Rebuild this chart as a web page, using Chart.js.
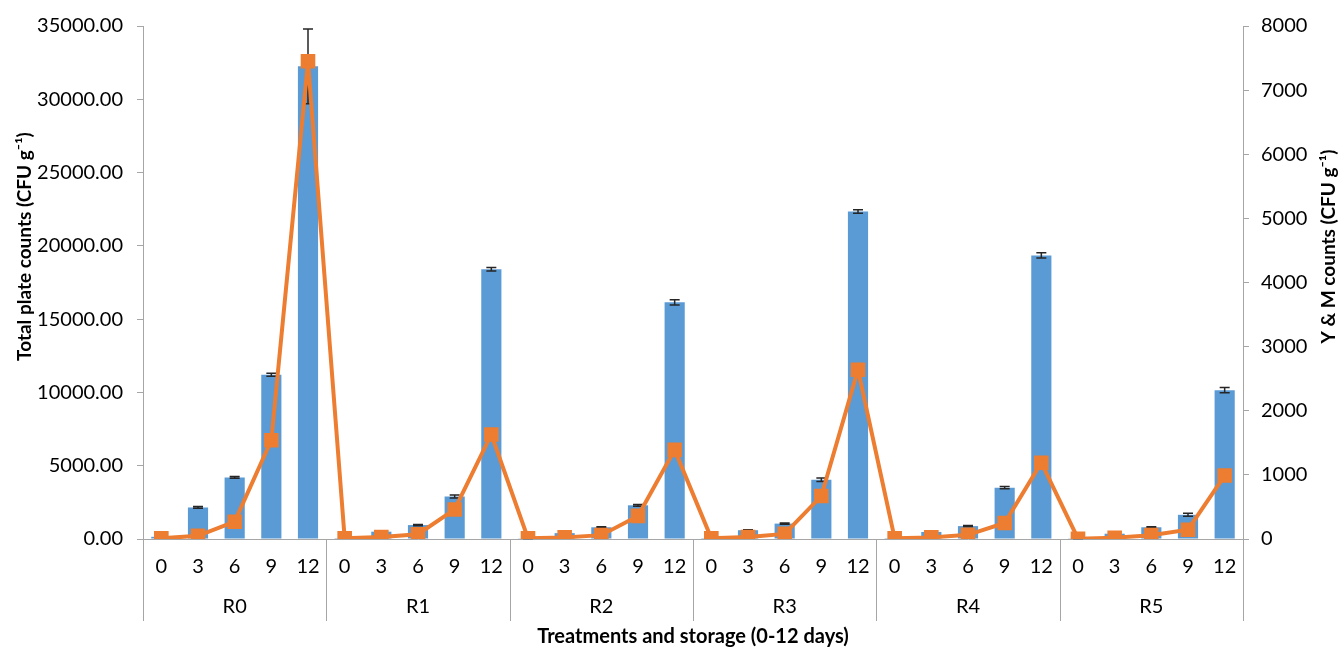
<!DOCTYPE html>
<html>
<head>
<meta charset="utf-8">
<script src="https://cdn.jsdelivr.net/npm/chart.js@4.4.0/dist/chart.umd.min.js"></script>
<style>
  html, body { margin: 0; background: #fff; }
  #wrap { width: 1338px; height: 650px; }
</style>
</head>
<body>
<div id="wrap"><canvas id="chart"></canvas></div>
<script>
const groups = ['R0', 'R1', 'R2', 'R3', 'R4', 'R5'];
const days = ['0', '3', '6', '9', '12'];

// total plate counts (left axis), per group: day 0, 3, 6, 9, 12
const totalPlate = [
  150, 2150, 4200, 11200, 32250,
  60, 500, 950, 2900, 18400,
  50, 400, 800, 2300, 16150,
  60, 600, 1050, 4050, 22350,
  60, 480, 880, 3500, 19350,
  50, 360, 800, 1650, 10150
];
const totalPlateErr = [
  20, 60, 60, 100, 2550,
  10, 30, 40, 100, 120,
  10, 30, 40, 60, 180,
  10, 30, 40, 120, 120,
  10, 30, 40, 80, 180,
  10, 30, 40, 100, 180
];
// yeast & mould counts (right axis)
const ymCounts = [
  10, 50, 270, 1540, 7450,
  10, 30, 75, 460, 1630,
  10, 25, 60, 360, 1390,
  10, 30, 80, 670, 2640,
  10, 25, 65, 250, 1190,
  5, 20, 60, 145, 990
];

const leftTitle = 'Total plate counts (CFU g\u207B\u00B9)';
const rightTitle = 'Y & M counts (CFU g\u207B\u00B9)';
const xTitle = 'Treatments and storage (0-12 days)';

const labels = groups.flatMap(() => days);

const axisGray = '#a6a6a6';

// error bars on the blue bars
const errorBars = {
  id: 'errorBars',
  afterDatasetDraw(chart, args) {
    if (args.index !== 0) return;
    const ctx = chart.ctx;
    const y = chart.scales.y;
    ctx.save();
    ctx.strokeStyle = '#262626';
    ctx.lineWidth = 1.5;
    args.meta.data.forEach((bar, i) => {
      const top = y.getPixelForValue(totalPlate[i] + totalPlateErr[i]);
      const bot = y.getPixelForValue(Math.max(0, totalPlate[i] - totalPlateErr[i]));
      const w = 5;
      ctx.beginPath();
      ctx.moveTo(bar.x, top); ctx.lineTo(bar.x, bot);
      ctx.moveTo(bar.x - w, top); ctx.lineTo(bar.x + w, top);
      ctx.moveTo(bar.x - w, bot); ctx.lineTo(bar.x + w, bot);
      ctx.stroke();
    });
    ctx.restore();
  }
};

// group separators under the axis + vertical axis titles
const groupAxis = {
  id: 'groupAxis',
  afterDraw(chart) {
    const { ctx, chartArea } = chart;
    const x = chart.scales.x;
    const x2 = chart.scales.x2;
    const end = x2.top + 43;
    ctx.save();
    ctx.strokeStyle = axisGray;
    ctx.lineWidth = 1;
    for (let g = 0; g <= groups.length; g++) {
      const px = Math.round(x.getPixelForValue(g * days.length - 0.5)) + 0.5;
      ctx.beginPath();
      ctx.moveTo(px, chartArea.bottom);
      ctx.lineTo(px, end);
      ctx.stroke();
    }
    ctx.restore();

    const cy = chartArea.top + chartArea.height * 0.43;
    [[leftTitle, 25], [rightTitle, chart.width - 9]].forEach(([text, cx]) => {
      ctx.save();
      ctx.fillStyle = '#000';
      ctx.font = 'bold 19px Lato';
      ctx.textAlign = 'center';
      ctx.textBaseline = 'middle';
      ctx.translate(cx, cy);
      ctx.rotate(-Math.PI / 2);
      ctx.fillText(text, 0, 0);
      ctx.restore();
    });
  }
};

Chart.defaults.font.family = 'Lato';
Chart.defaults.font.size = 20;
Chart.defaults.color = '#000';

new Chart(document.getElementById('chart'), {
  data: {
    labels: labels,
    datasets: [
      {
        type: 'bar',
        label: 'Total plate counts',
        data: totalPlate,
        backgroundColor: '#5B9BD5',
        categoryPercentage: 1,
        barPercentage: 0.55,
        yAxisID: 'y',
        order: 2
      },
      {
        type: 'line',
        label: 'Y & M counts',
        data: ymCounts,
        borderColor: '#ED7D31',
        backgroundColor: '#ED7D31',
        borderWidth: 4,
        pointStyle: 'rect',
        pointRadius: 7.5,
        pointBackgroundColor: '#ED7D31',
        pointBorderColor: '#ED7D31',
        tension: 0,
        yAxisID: 'y1',
        order: 1
      }
    ]
  },
  options: {
    responsive: true,
    maintainAspectRatio: false,
    animation: false,
    layout: { padding: { top: 24, left: 0, right: 0, bottom: 0 } },
    plugins: {
      legend: { display: false },
      tooltip: { enabled: false }
    },
    scales: {
      x: {
        type: 'category',
        offset: true,
        weight: 0,
        grid: { display: false },
        border: { display: true, color: axisGray },
        ticks: { autoSkip: false, maxRotation: 0, padding: 8 },
        afterFit(scale) { scale.height = 39; }
      },
      x2: {
        type: 'category',
        labels: groups,
        offset: true,
        position: 'bottom',
        weight: 1,
        grid: { display: false },
        border: { display: false },
        ticks: { maxRotation: 0, padding: 9 },
        title: {
          display: true,
          text: xTitle,
          font: { weight: 'bold', size: 20 },
          padding: { top: 0, bottom: 1 }
        },
        afterFit(scale) { scale.height = 72; }
      },
      y: {
        position: 'left',
        min: 0,
        max: 35000,
        grid: { drawOnChartArea: false, drawTicks: true, tickLength: 6, color: axisGray },
        border: { display: true, color: axisGray },
        ticks: {
          stepSize: 5000,
          padding: 14,
          callback: (v) => Number(v).toFixed(2)
        },
        afterFit(scale) { scale.width = 143; }
      },
      y1: {
        position: 'right',
        min: 0,
        max: 8000,
        grid: { drawOnChartArea: false, drawTicks: true, tickLength: 6, color: axisGray },
        border: { display: true, color: axisGray },
        ticks: {
          stepSize: 1000,
          padding: 12,
          callback: (v) => String(v)
        },
        afterFit(scale) { scale.width = 95; }
      }
    }
  },
  plugins: [errorBars, groupAxis]
});
</script>
</body>
</html>
